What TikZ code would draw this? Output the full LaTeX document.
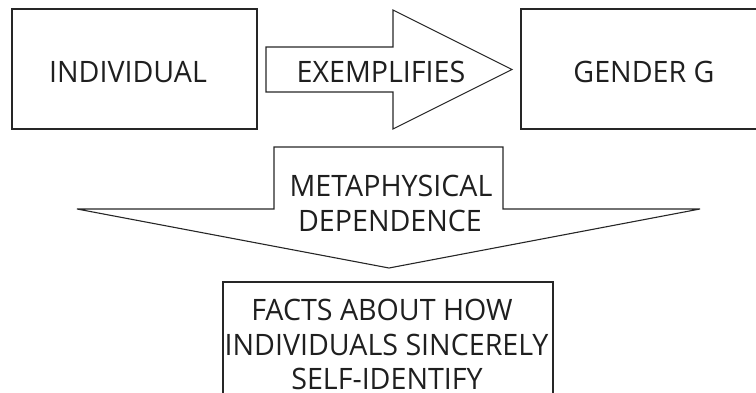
\documentclass[tikz,border=0pt]{standalone}
\usepackage{fontspec}
\setmainfont[FakeStretch=0.97]{Open Sans}
\begin{document}
\begin{tikzpicture}[x=1pt,y=-1pt,
  outline/.style={draw=black!85,line width=1.1pt,line join=miter},
  lbl/.style={inner sep=0pt,anchor=base,text=black!88,font=\fontsize{29.5}{35}\selectfont}]
\useasboundingbox (0,0) rectangle (756,393);
\clip (0,0) rectangle (756,393);
% boxes
\draw[outline] (12,9) rectangle (257,129);
\draw[outline] (521,9) rectangle (790,129);
\draw[outline] (223,282) rectangle (553,420);
% block arrow pointing right
\draw[outline] (266,47) -- (393,47) -- (393,10) -- (512,69.5) -- (393,129)
  -- (393,92) -- (266,92) -- cycle;
% block arrow pointing down
\draw[outline] (274,147) -- (503,147) -- (503,209) -- (700,209) -- (389,268)
  -- (77,209) -- (274,209) -- cycle;
% labels
\node[lbl] (ind) at (128,83) {INDIVIDUAL};
\node[lbl] (exe) at (381,83) {EXEMPLIFIES};
\node[lbl] (gen) at (644,83) {GENDER G};
\node[lbl] (met) at (391,197) {METAPHYSICAL};
\node[lbl] (dep) at (390,232) {DEPENDENCE};
\node[lbl] (fa1) at (382,320) {FACTS ABOUT HOW};
\node[lbl] (fa2) at (386.5,355) {INDIVIDUALS SINCERELY};
\node[lbl] (fa3) at (387,389.5) {SELF-IDENTIFY};
\end{tikzpicture}
\end{document}
